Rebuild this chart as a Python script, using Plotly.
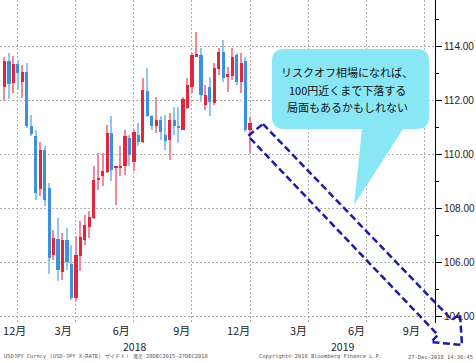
import plotly.graph_objects as go

# ---- data (weekly USDJPY candles) ----
weeks = [
    "2017-12-04", "2017-12-11", "2017-12-18", "2017-12-25",
    "2018-01-01", "2018-01-08", "2018-01-15", "2018-01-22", "2018-01-29",
    "2018-02-05", "2018-02-12", "2018-02-19", "2018-02-26",
    "2018-03-05", "2018-03-12", "2018-03-19", "2018-03-26",
    "2018-04-02", "2018-04-09", "2018-04-16", "2018-04-23", "2018-04-30",
    "2018-05-07", "2018-05-14", "2018-05-21", "2018-05-28",
    "2018-06-04", "2018-06-11", "2018-06-18", "2018-06-25",
    "2018-07-02", "2018-07-09", "2018-07-16", "2018-07-23", "2018-07-30",
    "2018-08-06", "2018-08-13", "2018-08-20", "2018-08-27",
    "2018-09-03", "2018-09-10", "2018-09-17", "2018-09-24",
    "2018-10-01", "2018-10-08", "2018-10-15", "2018-10-22", "2018-10-29",
    "2018-11-05", "2018-11-12", "2018-11-19", "2018-11-26",
    "2018-12-03", "2018-12-10", "2018-12-17", "2018-12-24",
]
open_ = [112.50, 113.48, 112.65, 113.36, 112.69, 113.06, 111.06, 110.67, 108.72, 110.15,
         108.75, 106.29, 106.87, 105.63, 106.82, 105.95, 104.68, 106.22, 106.84, 107.31,
         107.65, 109.06, 109.19, 109.34, 110.79, 109.50, 109.50, 109.56, 110.61, 109.74,
         110.73, 110.48, 112.34, 111.43, 111.06, 111.28, 110.73, 110.54, 111.28, 111.06,
         110.92, 111.72, 112.52, 113.63, 113.69, 111.84, 112.52, 111.90, 113.16, 113.82,
         112.86, 112.92, 113.69, 112.70, 113.48, 110.91]
high = [113.63, 113.76, 113.66, 113.50, 113.32, 113.39, 111.47, 110.92, 110.48, 110.30,
        108.94, 107.21, 107.64, 107.09, 107.27, 106.65, 106.99, 107.52, 107.77, 107.89,
        109.56, 110.05, 110.05, 111.10, 111.41, 109.56, 110.30, 110.92, 110.73, 110.92,
        111.16, 112.83, 113.20, 111.47, 112.15, 111.41, 111.47, 111.53, 111.78, 111.78,
        112.15, 112.83, 113.75, 114.56, 113.94, 112.58, 112.89, 113.38, 113.94, 114.25,
        113.26, 113.94, 113.75, 113.75, 113.63, 111.40]
low = [112.00, 112.05, 112.27, 112.40, 112.09, 110.98, 110.67, 108.32, 108.45, 108.08,
       105.55, 106.10, 105.30, 105.36, 105.73, 104.62, 104.56, 105.67, 106.66, 106.90,
       107.60, 108.69, 108.82, 109.31, 109.00, 108.14, 109.21, 109.25, 109.56, 109.37,
       110.30, 110.42, 111.40, 110.92, 110.80, 110.55, 110.17, 109.80, 110.73, 110.42,
       110.90, 111.70, 112.27, 113.60, 111.96, 111.65, 111.41, 111.84, 112.95, 112.70,
       112.33, 112.77, 112.58, 112.27, 110.85, 110.06]
close = [113.48, 112.62, 113.34, 113.02, 113.06, 111.06, 110.77, 108.57, 110.17, 108.30,
         106.16, 106.90, 105.73, 106.82, 106.00, 104.68, 106.29, 106.94, 107.40, 107.68,
         109.06, 109.12, 109.40, 110.79, 109.44, 109.56, 109.58, 110.67, 109.99, 110.82,
         110.48, 112.40, 111.43, 111.06, 111.28, 110.85, 110.51, 111.28, 111.04, 110.98,
         112.05, 112.58, 113.69, 113.73, 112.21, 112.21, 111.93, 113.20, 113.82, 112.83,
         112.99, 113.60, 112.70, 113.41, 110.92, 111.17]

month_label_dates = ["2017-12-20", "2018-03-06", "2018-06-05", "2018-09-08",
                     "2018-12-06", "2019-03-10", "2019-06-09", "2019-09-03"]
month_labels = ["12月", "3月", "6月", "9月", "12月", "3月", "6月", "9月"]
grid_dates = ["2017-12-25", "2018-03-26", "2018-06-25", "2018-09-24",
              "2018-12-24", "2019-03-25", "2019-06-24", "2019-09-23"]
year_labels = ["2018", "2019"]
y_ticks = [104, 106, 108, 110, 112, 114]
y_minor = [105, 107, 109, 111, 113, 115]
callout_lines = ["リスクオフ相場になれば、", "100円近くまで下落する", "局面もあるかもしれない"]
footer_left = "USDJPY Curncy (USD-JPY X-RATE) ザイＦＸ！ 週足 28DEC2015-27DEC2018"
footer_mid = "Copyright© 2018 Bloomberg Finance L.P."
footer_right = "27-Dec-2018 14:30:45"

# ---- styling ----
RED_BODY, RED_WICK = "#e3263f", "#f0899a"
BLUE_BODY, BLUE_WICK = "#3f8fe0", "#93c5f0"
DAY = 86400000

up = [c >= o for o, c in zip(open_, close)]
body_base = [min(o, c) for o, c in zip(open_, close)]
body_h = [max(abs(c - o), 0.04) for o, c in zip(open_, close)]
wick_h = [h - l for h, l in zip(high, low)]
body_col = [RED_BODY if u else BLUE_BODY for u in up]
wick_col = [RED_WICK if u else BLUE_WICK for u in up]

fig = go.Figure()
fig.add_trace(go.Bar(x=weeks, y=wick_h, base=low, width=2.0 * DAY,
                     marker=dict(color=wick_col, line=dict(width=0)), hoverinfo="skip"))
fig.add_trace(go.Bar(x=weeks, y=body_h, base=body_base, width=5.0 * DAY,
                     marker=dict(color=body_col, line=dict(width=0)), hoverinfo="skip"))

# plot area in pixels: x 0..435, y 0..323
PW, PH = 435.0, 323.0
def px(x):
    return x / PW
def py(y):
    return 1 - y / PH
def path(pts, close_path=True):
    s = "M " + " L ".join(f"{px(a):.5f},{py(b):.5f}" for a, b in pts)
    return s + (" Z" if close_path else "")

# callout bubble (rounded rect with tail)
L, R, T, B, r = 272, 429, 49, 129, 12
bubble = (f"M {px(L+r):.5f},{py(T):.5f} L {px(R-r):.5f},{py(T):.5f} "
          f"Q {px(R):.5f},{py(T):.5f} {px(R):.5f},{py(T+r):.5f} "
          f"L {px(R):.5f},{py(B-r):.5f} Q {px(R):.5f},{py(B):.5f} {px(R-r):.5f},{py(B):.5f} "
          f"L {px(403):.5f},{py(B):.5f} L {px(354):.5f},{py(205):.5f} L {px(362):.5f},{py(B):.5f} "
          f"L {px(L+r):.5f},{py(B):.5f} Q {px(L):.5f},{py(B):.5f} {px(L):.5f},{py(B-r):.5f} "
          f"L {px(L):.5f},{py(T+r):.5f} Q {px(L):.5f},{py(T):.5f} {px(L+r):.5f},{py(T):.5f} Z")
fig.add_shape(type="path", path=bubble, xref="paper", yref="paper",
              fillcolor="#89e7f5", line=dict(width=0), layer="above")

arrow = path([(263, 124), (452, 320), (460, 314), (462, 345),
              (431, 342), (438, 335), (248, 136)])
fig.add_shape(type="path", path=arrow, xref="paper", yref="paper",
              line=dict(color="#1c1ca4", width=2.5, dash="7px,3.5px"), layer="above")

for i, (t, yy) in enumerate(zip(callout_lines, [72, 89.5, 107])):
    fig.add_annotation(text=t, x=px(347), y=py(yy), xref="paper", yref="paper",
                       showarrow=False, xanchor="center", yanchor="middle",
                       font=dict(family="Noto Sans CJK JP", size=11, color="#111"))

for t, xx in zip(year_labels, [134, 342]):
    fig.add_annotation(text=t, x=px(xx), y=py(346.5), xref="paper", yref="paper",
                       showarrow=False, xanchor="center", yanchor="middle",
                       font=dict(family="Noto Sans CJK JP", size=10.5, color="#222"))

ff = dict(family="DejaVu Sans Mono", size=5.4, color="#555")
fig.add_annotation(text=footer_left, x=px(2), y=py(356.5), xref="paper", yref="paper",
                   showarrow=False, xanchor="left", yanchor="middle", font=ff)
fig.add_annotation(text=footer_mid, x=px(257), y=py(356.5), xref="paper", yref="paper",
                   showarrow=False, xanchor="left", yanchor="middle", font=ff)
fig.add_annotation(text=footer_right, x=px(475), y=py(356.5), xref="paper", yref="paper",
                   showarrow=False, xanchor="right", yanchor="middle", font=ff)

grid = dict(gridcolor="#b0b0b0", gridwidth=1, griddash="2px,2px")
fig.update_layout(
    width=476, height=363,
    margin=dict(l=0, r=41, t=0, b=40, autoexpand=False),
    paper_bgcolor="white", plot_bgcolor="white",
    barmode="overlay", showlegend=False, bargap=0,
    xaxis=dict(type="date", range=["2017-11-27", "2019-10-10"],
               tickmode="array", tickvals=month_label_dates, ticktext=month_labels,
               showgrid=False, ticks="", zeroline=False, showline=False,
               ticklabelstandoff=0,
               tickfont=dict(family="Noto Sans CJK JP", size=11, color="#222"),
               minor=dict(tickmode="array", tickvals=grid_dates, showgrid=True, ticks="", **grid)),
    yaxis=dict(side="right", range=[103.75, 115.73],
               tickmode="array", tickvals=y_ticks, ticktext=[f"{v:.2f}" for v in y_ticks],
               showgrid=True, **grid, zeroline=False,
               ticks="outside", ticklen=6, tickcolor="#000", tickwidth=1,
               showline=True, linecolor="#000", linewidth=1,
               tickfont=dict(family="Liberation Sans", size=10, color="#222"),
               minor=dict(tickmode="array", tickvals=y_minor, ticks="outside",
                          ticklen=3, tickcolor="#000", showgrid=False)),
)

fig.write_html("out.html", config={"displayModeBar": False},
               post_script="document.body.style.margin='0';document.body.style.padding='0';")
